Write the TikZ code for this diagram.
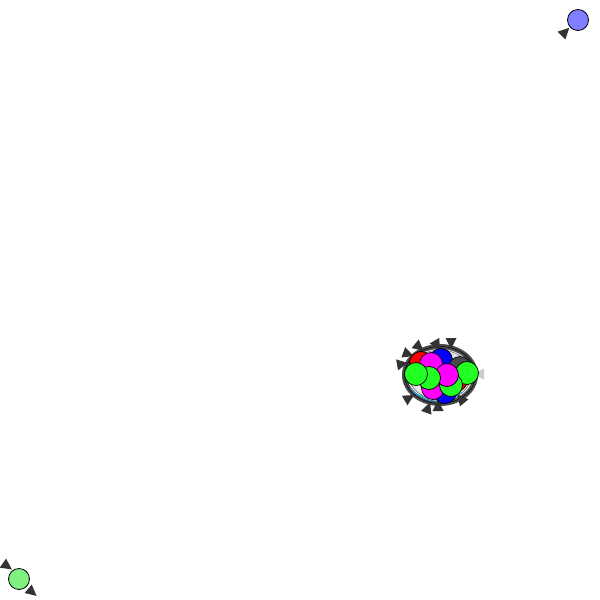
\documentclass[tikz,border=0pt]{standalone}
\usetikzlibrary{calc}
\definecolor{nblue}{HTML}{7F7FFF}
\definecolor{ngreen}{HTML}{80F080}
\definecolor{cgreen}{HTML}{22FF22}
\definecolor{cmag}{HTML}{FF00FF}
\definecolor{cblue}{HTML}{0000FF}
\definecolor{cred}{HTML}{FF0000}
\definecolor{cgray}{HTML}{4A4A4A}
\definecolor{tipc}{HTML}{333333}
\tikzset{
  vnode/.style={circle,draw=black,line width=0.8pt,minimum size=21pt,inner sep=0pt},
  bignode/.style={circle,draw=black,line width=0.7pt,minimum size=23pt,inner sep=0pt},
}
% \tipat{x}{y}{angle}{colour}
\newcommand{\tipat}[4]{\fill[#4,shift={(#1pt,-#2pt)},rotate=#3] (6pt,0) -- (-5pt,5.5pt) -- (-5pt,-5.5pt) -- cycle;}
\begin{document}
\begin{tikzpicture}[x=1pt,y=1pt]
\useasboundingbox (0,0) rectangle (600,-600);
% outliers
\node[vnode,fill=nblue] (n1) at (578,-20) {};
\node[vnode,fill=ngreen] (n2) at (19,-579) {};
\tipat{565}{32}{45}{tipc}
\tipat{7}{566}{-35}{tipc}
\tipat{32}{592}{-40}{tipc}
% cluster ring
\fill[cgray] (440,-375) ellipse (38 and 31);
\fill[white!80!gray] (440,-375) ellipse (33 and 26);
\draw[black,line width=0.5pt] (440,-375) ellipse (35.5 and 28.5);
\draw[black!70,line width=0.4pt] (440,-375) ellipse (31 and 25);
\draw[cyan!80!black,line width=0.8pt] (410,-388) .. controls (425,-405) and (445,-405) .. (462,-392);
\draw[cyan,line width=0.6pt] (413,-392) .. controls (430,-402) and (450,-400) .. (458,-396);
% tips around cluster
\tipat{402}{364}{10}{tipc}
\tipat{408}{354}{-20}{tipc}
\tipat{419}{347}{-40}{tipc}
\tipat{437}{345}{-60}{tipc}
\tipat{451}{343}{-90}{tipc}
\tipat{479}{374}{180}{gray!40}
\tipat{409}{398}{30}{tipc}
\tipat{428}{408}{70}{tipc}
\tipat{438}{406}{90}{tipc}
\tipat{461}{399}{130}{tipc}
% cluster nodes
\node[bignode,fill=cred] (c1) at (421,-363) {};
\node[bignode,fill=cred] (c2) at (456,-380) {};
\node[bignode,fill=cblue] (c3) at (445,-392) {};
\node[bignode,fill=cblue] (c4) at (441,-360) {};
\node[bignode,fill=cgray] (c5) at (460,-368) {};
\node[bignode,fill=cgreen] (c6) at (467,-373) {};
\node[bignode,fill=cmag] (c7) at (431,-364) {};
\node[bignode,fill=cmag] (c8) at (433,-388) {};
\node[bignode,fill=cgreen] (c9) at (451,-385) {};
\node[bignode,fill=cmag] (c10) at (447,-375) {};
\node[bignode,fill=cgreen] (c11) at (429,-378) {};
\node[bignode,fill=cgreen] (c12) at (416,-374) {};
\end{tikzpicture}
\end{document}
